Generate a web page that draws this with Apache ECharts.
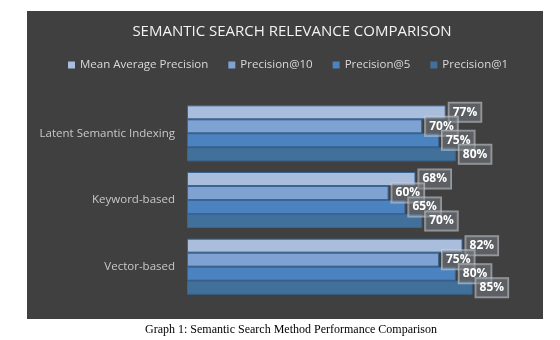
<!DOCTYPE html>
<html>
<head>
<meta charset="utf-8">
<script src="https://cdn.jsdelivr.net/npm/echarts@6/dist/echarts.min.js"></script>
<style>
html,body{margin:0;padding:0;background:#fff;}
#c{width:560px;height:340px;}
</style>
</head>
<body>
<div id="c"></div>
<script>
const categories = ['Latent Semantic Indexing', 'Keyword-based', 'Vector-based'];
const seriesNames = ['Mean Average Precision', 'Precision@10', 'Precision@5', 'Precision@1'];
const meanAvgPrecision = [77, 68, 82];
const precisionAt10 = [70, 60, 75];
const precisionAt5 = [75, 65, 80];
const precisionAt1 = [80, 70, 85];
const chartTitle = 'SEMANTIC SEARCH RELEVANCE COMPARISON';
const caption = 'Graph 1: Semantic Search Method Performance Comparison';

const valuesByName = {
  'Mean Average Precision': meanAvgPrecision,
  'Precision@10': precisionAt10,
  'Precision@5': precisionAt5,
  'Precision@1': precisionAt1
};
const colors = {
  'Mean Average Precision': '#a8bedc',
  'Precision@10': '#7ea2d2',
  'Precision@5': '#4b83c0',
  'Precision@1': '#41709b'
};

const chart = echarts.init(document.getElementById('c'), null, {renderer: 'canvas'});

const series = seriesNames.map(function (name) {
  return {
    name: name,
    type: 'bar',
    data: valuesByName[name],
    barGap: '0%',
    barCategoryGap: '16%',
    itemStyle: {
      color: colors[name],
      borderColor: '#3a6494',
      borderWidth: 1
    },
    label: {
      show: true,
      position: 'right',
      distance: 3,
      formatter: '{c}%',
      color: '#ffffff',
      fontFamily: 'Open Sans',
      fontWeight: 'bold',
      fontSize: 12,
      lineHeight: 14,
      backgroundColor: 'rgba(120,128,138,0.5)',
      borderColor: 'rgba(215,215,215,0.6)',
      borderWidth: 1,
      padding: [3, 4, 2, 4]
    }
  };
});

chart.setOption({
  backgroundColor: '#ffffff',
  animation: false,
  graphic: [{
    type: 'rect',
    z: -10,
    shape: {x: 27, y: 11, width: 516, height: 308},
    style: {fill: '#404040'}
  }],
  title: [{
    text: chartTitle,
    left: 287,
    textAlign: 'center',
    top: 19,
    textStyle: {color: '#f2f2f2', fontSize: 15, fontWeight: 'normal', fontFamily: 'Open Sans'}
  }, {
    text: caption,
    left: 286,
    textAlign: 'center',
    top: 319,
    textStyle: {color: '#000000', fontSize: 12, fontWeight: 'normal', fontFamily: 'Liberation Serif'}
  }],
  legend: {
    data: seriesNames,
    top: 54,
    left: 63,
    itemWidth: 7,
    itemHeight: 7,
    itemGap: 20,
    icon: 'rect',
    itemStyle: {borderWidth: 0},
    textStyle: {color: '#d9d9d9', fontSize: 11.5, fontFamily: 'Open Sans'}
  },
  grid: {left: 187, right: 37, top: 100, bottom: 40},
  xAxis: {
    type: 'value',
    min: 0,
    max: 100,
    show: false,
    splitLine: {show: false}
  },
  yAxis: {
    type: 'category',
    data: categories,
    inverse: true,
    axisLine: {show: false},
    axisTick: {show: false},
    axisLabel: {color: '#c8c8c8', fontSize: 11.5, fontFamily: 'Open Sans', margin: 12}
  },
  series: series
});
</script>
</body>
</html>
